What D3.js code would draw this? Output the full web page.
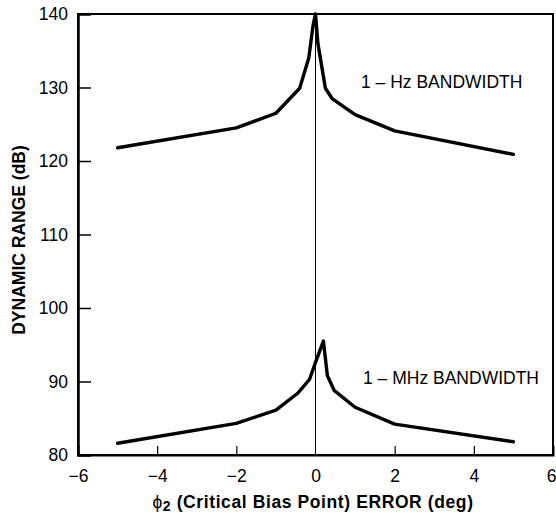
<!DOCTYPE html>
<html>
<head>
<meta charset="utf-8">
<script src="https://cdn.jsdelivr.net/npm/d3@7"></script>
<style>
  body { margin: 0; background: #fff; }
  text { font-family: "Liberation Sans", Arial, sans-serif; fill: #000; }
</style>
</head>
<body>
<script>
// values
var hzX = [-5, -2, -1, -0.4, -0.17, -0.06, 0, 0.06, 0.25, 0.42, 1, 2, 5];
var hzY = [121.8, 124.5, 126.5, 129.9, 134, 138.5, 140, 136, 129.9, 128.5, 126.3, 124.1, 120.9];
var mhzX = [-5, -2, -1, -0.45, -0.15, 0, 0.2, 0.3, 0.47, 1, 2, 5];
var mhzY = [81.6, 84.3, 86.1, 88.4, 90.3, 92.6, 95.5, 90.8, 88.8, 86.5, 84.2, 81.8];
var xTicks = [-6, -4, -2, 0, 2, 4, 6];
var yTicks = [80, 90, 100, 110, 120, 130, 140];

var W = 556, H = 515;
var margin = {left: 78, right: 3, top: 14, bottom: 60};
var fs = 17.5;

var svg = d3.select("body").append("svg")
  .attr("width", W)
  .attr("height", H);

var x = d3.scaleLinear().domain([-6, 6]).range([margin.left, W - margin.right]);
var y = d3.scaleLinear().domain([80, 140]).range([H - margin.bottom, margin.top]);

// frame
svg.append("rect")
  .attr("x", x(-6)).attr("y", y(140))
  .attr("width", x(6) - x(-6)).attr("height", y(80) - y(140))
  .attr("fill", "none").attr("stroke", "#000").attr("stroke-width", 2);

// inward ticks on left and bottom axes
var yAxis = d3.axisLeft(y).tickValues(yTicks).tickSize(-13).tickPadding(10)
  .tickFormat(d3.format("d"));
var gy = svg.append("g").attr("transform", "translate(" + x(-6) + ",0)").call(yAxis);
gy.select(".domain").attr("stroke-width", 2.5);
gy.selectAll(".tick line").attr("stroke-width", 1.5)
  .filter(function(d) { return d == 80 || d == 140; }).remove();
gy.selectAll("text").attr("font-size", fs).attr("fill", "#000");

var xAxis = d3.axisBottom(x).tickValues(xTicks).tickSize(-9).tickPadding(15)
  .tickFormat(function(d) { return d < 0 ? "\u2212" + Math.abs(d) : d; });
var gx = svg.append("g").attr("transform", "translate(0," + y(80) + ")").call(xAxis);
gx.select(".domain").attr("stroke-width", 2);
gx.selectAll(".tick line").attr("stroke-width", 1.2)
  .filter(function(d) { return d == -6 || d == 6 || d == 0; }).remove();
gx.selectAll("text").attr("font-size", fs).attr("fill", "#000");
// last label sits at the page edge
gx.selectAll("text").filter(function(d) { return d == 6; })
  .attr("text-anchor", "end").attr("x", 3);

// zero line
svg.append("line")
  .attr("x1", x(0)).attr("x2", x(0))
  .attr("y1", y(140)).attr("y2", y(80))
  .attr("stroke", "#000").attr("stroke-width", 1);

var line = d3.line()
  .x(function(d) { return x(d[0]); })
  .y(function(d) { return y(d[1]); });

svg.append("path")
  .datum(d3.zip(hzX, hzY))
  .attr("d", line)
  .attr("fill", "none").attr("stroke", "#000").attr("stroke-width", 3.4)
  .attr("stroke-linejoin", "round").attr("stroke-linecap", "round");

svg.append("path")
  .datum(d3.zip(mhzX, mhzY))
  .attr("d", line)
  .attr("fill", "none").attr("stroke", "#000").attr("stroke-width", 3.4)
  .attr("stroke-linejoin", "round").attr("stroke-linecap", "round");

// annotations
svg.append("text").attr("x", 361).attr("y", 88).attr("font-size", fs)
  .text("1 \u2013 Hz BANDWIDTH");
svg.append("text").attr("x", 363).attr("y", 384).attr("font-size", fs)
  .text("1 \u2013 MHz BANDWIDTH");

// axis titles
var xt = svg.append("text")
  .attr("x", 313).attr("y", 508)
  .attr("text-anchor", "middle")
  .attr("font-size", fs).attr("font-weight", "bold")
  .attr("letter-spacing", 0.6);
xt.append("tspan").attr("font-weight", "normal").text("\u03d5");
xt.append("tspan").attr("font-size", 14).attr("dy", 3).text("2");
xt.append("tspan").attr("dy", -3).text(" (Critical Bias Point) ERROR (deg)");

svg.append("text")
  .attr("transform", "translate(25,240) rotate(-90)")
  .attr("text-anchor", "middle")
  .attr("font-size", fs).attr("font-weight", "bold")
  .text("DYNAMIC RANGE (dB)");
</script>
</body>
</html>
